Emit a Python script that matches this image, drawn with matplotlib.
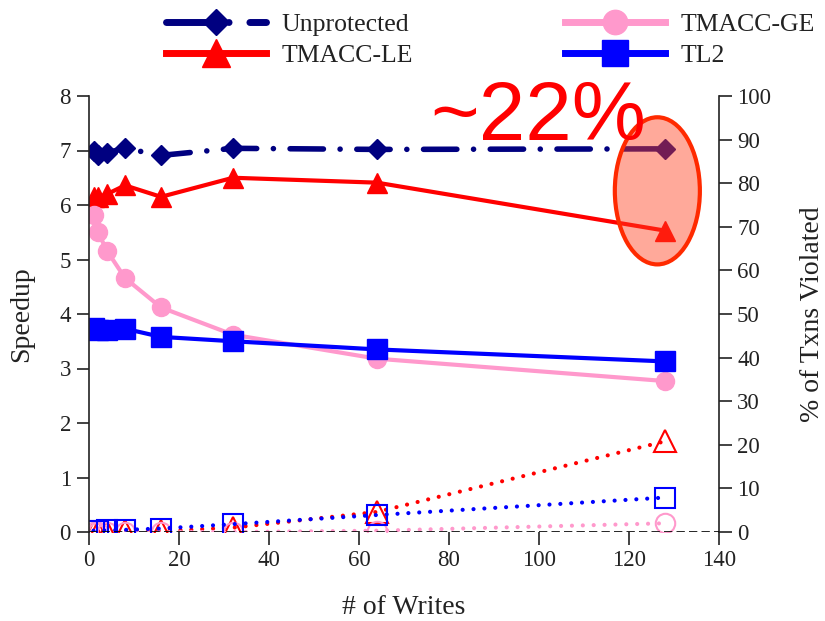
import numpy as np
import matplotlib
matplotlib.use('Agg')
import matplotlib.pyplot as plt
from matplotlib.patches import Ellipse

plt.rcParams['font.family'] = ['Liberation Serif', 'DejaVu Serif']

## dados
writes = [1, 2, 4, 8, 16, 32, 64, 128]
sp_unprot = [7.0, 6.92, 6.96, 7.04, 6.91, 7.04, 7.02, 7.03]
sp_le = [6.14, 6.14, 6.2, 6.36, 6.15, 6.5, 6.41, 5.53]
sp_ge = [5.82, 5.5, 5.16, 4.66, 4.12, 3.62, 3.18, 2.77]
sp_tl2 = [3.74, 3.7, 3.7, 3.73, 3.58, 3.5, 3.35, 3.13]
viol_le = [0.0, 0.0, 0.0, 0.2, 0.2, 1.0, 4.6, 20.8]
viol_ge = [0.0, 0.0, 0.0, 0.0, 0.0, 0.0, 0.3, 2.0]
viol_tl2 = [0.3, 0.3, 0.4, 0.5, 0.8, 1.8, 3.9, 7.9]

navy = '#000080'
red = '#ff0000'
pink = '#ff99cc'
blue = '#0000ff'
axcol = '#222222'

W, H = 825, 621
fig = plt.figure(figsize=(W / 100, H / 100), dpi=100)
ax = fig.add_axes([89 / W, 1 - 532 / H, 630 / W, 436 / H])
ax2 = ax.twinx()

## eixo direito (% violadas), linhas pontilhadas, marcadores vazios
dot = (0, (0.01, 2.6))
ax2.plot(writes, viol_le, color=red, ls=dot, lw=3, dash_capstyle='round',
         marker='^', ms=16, mfc='none', mec=red, mew=1.5)
ax2.plot(writes, viol_ge, color=pink, ls=dot, lw=3, dash_capstyle='round',
         marker='o', ms=14, mfc='none', mec=pink, mew=1.5)
ax2.plot(writes, viol_tl2, color=blue, ls=dot, lw=3, dash_capstyle='round',
         marker='s', ms=15, mfc='none', mec=blue, mew=1.5)
ax2.set_ylim(0, 100)
ax2.set_yticks(range(0, 101, 10))
ax2.set_ylabel('% of Txns Violated', fontsize=20, color=axcol)
ax2.yaxis.set_label_coords((800 - 89) / 630, 0.5)

## eixo esquerdo (speedup)
ax.set_zorder(ax2.get_zorder() + 1)
ax.patch.set_visible(False)
ax.plot(writes, sp_unprot, color=navy, lw=4, dashes=(6, 3, 0.01, 3),
        dash_capstyle='round', marker='D', ms=10, label='Unprotected')
ax.plot(writes, sp_le, color=red, lw=3, marker='^', ms=15, label='TMACC-LE')
ax.plot(writes, sp_ge, color=pink, lw=3, marker='o', ms=13, label='TMACC-GE')
ax.plot(writes, sp_tl2, color=blue, lw=3, marker='s', ms=14, label='TL2')
ax.set_xlim(0, 140)
ax.set_ylim(0, 8)
ax.set_xticks(range(0, 141, 20))
ax.set_yticks(range(0, 9))
ax.set_xlabel('# of Writes', fontsize=20, color=axcol)
ax.set_ylabel('Speedup', fontsize=20, color=axcol)
ax.xaxis.set_label_coords(0.5, -0.145)
ax.yaxis.set_label_coords((34 - 89) / 630, 0.5)

for a in (ax, ax2):
    a.spines['top'].set_visible(False)
    a.spines['bottom'].set_visible(False)
    a.tick_params(labelsize=16.5, length=9, width=1.2, pad=4, direction='out',
                  color=axcol, labelcolor=axcol)
    for s in ('left', 'right'):
        a.spines[s].set_linewidth(1.2)
        a.spines[s].set_color(axcol)
ax2.spines['left'].set_visible(False)
ax.spines['right'].set_visible(False)
ax.axhline(0, color='black', lw=1.2, dashes=(5, 2.5), zorder=0.5)

leg = ax.legend(ncol=2, loc='upper left', bbox_to_anchor=(153 / W, 1.0),
                bbox_transform=fig.transFigure, frameon=False, fontsize=18.5,
                handlelength=3.9, columnspacing=5.9, labelspacing=0.3,
                handletextpad=0.6, borderpad=0, markerscale=1.35)
for t in leg.get_texts():
    t.set_color(axcol)
for ln in leg.get_lines():
    ln.set_linewidth(5)

## destaque
ell = Ellipse((126.3, 6.26), 18.9, 2.7, facecolor=(1, 0.25, 0.12, 0.45),
              edgecolor='#ff2a00', lw=3, zorder=10)
ax.add_patch(ell)
ax.text((430 - 89) / 630, (532 - 140) / 436, '~22%', transform=ax.transAxes,
        color=red, fontsize=60, family='Liberation Sans', ha='left',
        va='baseline', zorder=11)

fig.savefig('out.png', dpi=100)
